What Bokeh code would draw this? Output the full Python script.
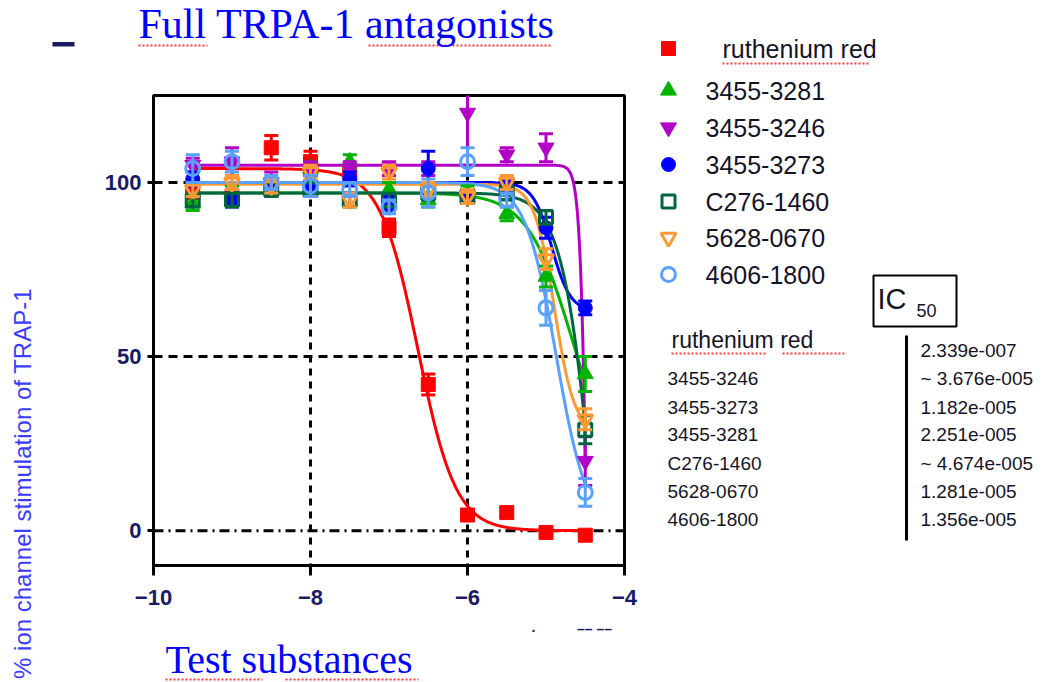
import numpy as np
from bokeh.plotting import figure
from bokeh.layouts import row, column
from bokeh.models import (ColumnDataSource, FixedTicker, Span, Label, Range1d)
from bokeh.core.properties import value
from bokeh.embed import file_html
from bokeh.resources import INLINE

# ---------------- data ----------------
log_conc = [-9.5, -9.0, -8.5, -8.0, -7.5, -7.0, -6.5, -6.0, -5.5, -5.0, -4.5]

names = ["ruthenium red", "3455-3281", "3455-3246", "3455-3273",
         "C276-1460", "5628-0670", "4606-1800"]

ruthenium_red = [97, 96, 110, 106, 103, 87, 42, 4.5, 5.2, -0.5, -1.3]
ruthenium_red_err = [1, 1, 3.5, 3, 1, 2.5, 3, 1, 1, 0.5, 0.5]

c3455_3281 = [94, 97, 98, 104, 106, 98, 95, 97, 91, 73, 45]
c3455_3281_err = [2, 2, 2, 2, 2, 2, 2, 2, 2, 3, 5]

c3455_3246 = [105, 106, 100, 104, 104, 104, 104, 120, 108, 110, 20]
c3455_3246_err = [2, 4, 3, 2, 2, 2, 2, 15, 2, 4, 7]

c3455_3273 = [101, 95, 99, 100, 101, 94, 104, 96, 99, 87, 64]
c3455_3273_err = [2, 2, 2, 2, 2, 2, 5, 2, 2, 3, 2]

cC276_1460 = [95, 95, 98, 98, 95, 95, 97, 96, 97, 90, 29]
cC276_1460_err = [2, 2, 2, 2, 2, 2, 2, 2, 2, 2, 4]

c5628_0670 = [98, 100, 99, 103, 95, 103, 98, 96, 100, 78, 32]
c5628_0670_err = [2, 2, 2, 2, 2, 2, 2, 2, 2, 3, 3]

c4606_1800 = [104, 106, 100, 99, 98, 93, 97, 106, 95, 64, 11]
c4606_1800_err = [4, 3, 2, 3, 2, 2, 4, 4, 2, 5, 4]

# fitted sigmoid parameters (top, bottom, log IC50, Hill slope)
fit_top = [104, 97, 105, 100, 97, 99.5, 100]
fit_bottom = [0, 10, -300, 63, -120, 28, 0]
fit_logic50 = [-6.631, -4.648, -4.4346, -4.927, -4.330, -4.892, -4.868]
fit_hill = [1.8, 1.49, 8.8, 3.65, 2.06, 3.39, 2.2]

ic50_names = ["ruthenium red", "3455-3246", "3455-3273", "3455-3281",
              "C276-1460", "5628-0670", "4606-1800"]
ic50_values = ["2.339e-007", "~ 3.676e-005", "1.182e-005", "2.251e-005",
               "~ 4.674e-005", "1.281e-005", "1.356e-005"]

x_ticks = [-10, -8, -6, -4]
y_ticks = [0, 50, 100]

values = [ruthenium_red, c3455_3281, c3455_3246, c3455_3273, cC276_1460, c5628_0670, c4606_1800]
errors = [ruthenium_red_err, c3455_3281_err, c3455_3246_err, c3455_3273_err,
          cC276_1460_err, c5628_0670_err, c4606_1800_err]

# ---------------- styles ----------------
colors = ["#ff0000", "#00b400", "#b400c8", "#0000ff", "#006640", "#ff9933", "#5aa0ff"]
markers = ["square", "triangle", "inverted_triangle", "circle", "square",
           "inverted_triangle", "circle"]
filled = [True, True, True, True, False, False, False]
msizes = [14, 16, 16, 14, 13, 15, 14]

NAVY = "#1a1a66"
TXT = "#141428"
SANS = "Liberation Sans"
SERIF = "Liberation Serif"

# layout geometry (page pixels)
W_LEFT, W_MID, W_RIGHT = 45, 595, 417
H_TOP, H_MAIN, H_BOT = 93, 522, 67
H_ALL = H_TOP + H_MAIN + H_BOT


def canvas(w, h, x0, y0):
    """A blank figure whose data coordinates equal page pixels."""
    f = figure(width=w, height=h, x_range=Range1d(x0, x0 + w), y_range=Range1d(y0 + h, y0),
               x_axis_type=None, y_axis_type=None, min_border=0,
               output_backend="svg", toolbar_location=None,
               background_fill_color="white", border_fill_color="white")
    f.outline_line_color = None
    f.grid.visible = False
    return f


def lab(f, text, x, y, size, font=SANS, color=TXT, align="left",
        baseline="middle", style="normal", angle=0):
    f.add_layout(Label(x=x, y=y, text=text, text_font=font,
                       text_font_size=f"{size}px", text_color=color,
                       text_align=align, text_baseline=baseline,
                       text_font_style=style, angle=angle))


def squiggle(f, x0, x1, y):
    f.segment(x0=[x0], y0=[y], x1=[x1], y1=[y], line_color="#ff3b3b",
              line_width=2, line_dash="2 2")


# ---------------- main chart ----------------
p = figure(frame_width=471, frame_height=470,
           min_border_left=108, min_border_right=16,
           min_border_top=2, min_border_bottom=H_MAIN - 472,
           x_range=(-10, -4), y_range=(-10, 125),
           output_backend="svg", toolbar_location=None,
           background_fill_color="white", border_fill_color="white")
p.outline_line_color = "black"
p.outline_line_width = 3
p.xgrid.visible = False
p.ygrid.visible = False

for ax, ticks in ((p.xaxis, x_ticks), (p.yaxis, y_ticks)):
    ax.ticker = FixedTicker(ticks=ticks)
    ax.axis_line_width = 3
    ax.axis_line_color = "black"
    ax.major_tick_line_width = 3
    ax.major_tick_line_color = "black"
    ax.major_tick_in = 0
    ax.minor_tick_line_color = None
    ax.major_label_text_font = SANS
    ax.major_label_text_font_size = "22px"
    ax.major_label_text_font_style = "bold"
    ax.major_label_text_color = NAVY
p.xaxis.major_tick_out = 10
p.xaxis.major_label_standoff = 14
p.yaxis.major_tick_out = 6
p.yaxis.major_label_standoff = 6

for t in x_ticks[1:-1]:
    p.add_layout(Span(location=t, dimension="height", line_color="black",
                      line_width=3, line_dash="7 6", level="underlay"))
for t in y_ticks:
    dash = "10 5 2 5" if t == 0 else "9 6"
    p.add_layout(Span(location=t, dimension="width", line_color="black",
                      line_width=3, line_dash=dash, level="underlay"))

xf = np.linspace(log_conc[0], log_conc[-1], 500)
for i in range(len(names)):
    yf = fit_bottom[i] + (fit_top[i] - fit_bottom[i]) / (1 + 10 ** ((xf - fit_logic50[i]) * fit_hill[i]))
    p.line(xf, yf, line_color=colors[i], line_width=3)

for i, nm in enumerate(names):
    y = np.array(values[i], dtype=float)
    e = np.array(errors[i], dtype=float)
    src = ColumnDataSource(dict(x=log_conc, y=y, lo=y - e, hi=y + e))
    p.segment(x0="x", y0="lo", x1="x", y1="hi", source=src, line_color=colors[i], line_width=3)
    p.scatter(x="x", y="lo", source=src, marker="dash", size=14, line_color=colors[i], line_width=3)
    p.scatter(x="x", y="hi", source=src, marker="dash", size=14, line_color=colors[i], line_width=3)
    if filled[i]:
        p.scatter(x="x", y="y", source=src, marker=markers[i], size=msizes[i],
                  fill_color=colors[i], line_color=colors[i], line_width=1)
    else:
        p.scatter(x="x", y="y", source=src, marker=markers[i], size=msizes[i],
                  fill_alpha=0.0, line_color=colors[i], line_width=3)

# ---------------- surrounding texts ----------------
p_left = canvas(W_LEFT, H_ALL, 0, 0)
lab(p_left, "% ion channel stimulation of TRAP-1", 22, 483, 24, color="#3c3cff",
    align="center", angle=np.pi / 2)

p_top = canvas(W_MID, H_TOP, W_LEFT, 0)
lab(p_top, "Full TRPA-1 antagonists", 138, 23, 42, font=SERIF, color="#0000ff")
p_top.quad(left=[52], right=[74], top=[41.5], bottom=[46], fill_color=NAVY, line_color=None)
squiggle(p_top, 138, 207, 45)
squiggle(p_top, 368, 552, 45)

p_bot = canvas(W_MID, H_BOT, W_LEFT, H_TOP + H_MAIN)
lab(p_bot, "Test substances", 165, 659, 40, font=SERIF, color="#0000ff")
lab(p_bot, ".", 533, 626, 14, color=NAVY, align="center", style="bold")
lab(p_bot, "\u2013\u2013 \u2013\u2013", 594, 628, 14, color=NAVY, align="center", style="bold")
squiggle(p_bot, 165, 262, 679)
squiggle(p_bot, 285, 418, 679)

# legend + IC50 table
p_right = canvas(W_RIGHT, H_ALL, W_LEFT + W_MID, 0)
legend_y = [48, 90, 127, 164, 201, 237, 274]
legend_src = ColumnDataSource(dict(x=[668] * len(names), y=legend_y, color=colors,
                                   marker=markers, size=msizes,
                                   fa=[1.0 if f else 0.0 for f in filled],
                                   lw=[1 if f else 3 for f in filled],
                                   tx=[722 if i == 0 else 705 for i in range(len(names))],
                                   name=names))
p_right.scatter(x="x", y="y", marker="marker", size="size", fill_color="color",
                fill_alpha="fa", line_color="color", line_width="lw", source=legend_src)
p_right.text(x="tx", y="y", text="name", source=legend_src, text_font=value(SANS),
             text_font_size="25px", text_color=TXT, text_baseline="middle")
squiggle(p_right, 722, 868, 63)

p_right.quad(left=[873], right=[956], top=[275], bottom=[326], fill_alpha=0,
             line_color="black", line_width=2)
lab(p_right, "IC", 877, 298, 29)
lab(p_right, "50", 916, 310, 18)
p_right.quad(left=[904.5], right=[907.5], top=[335], bottom=[540],
             fill_color="black", line_color=None)

name_y = [339, 378, 407, 434, 463, 491, 519]
val_y = [350, 378, 407, 434, 463, 491, 519]
for i, (nm, yy) in enumerate(zip(ic50_names, name_y)):
    if i == 0:
        lab(p_right, nm, 671, yy, 23)
    else:
        lab(p_right, nm, 667, yy, 19)
for v, yy in zip(ic50_values, val_y):
    lab(p_right, v, 920, yy, 19)
squiggle(p_right, 671, 765, 353)
squiggle(p_right, 782, 845, 353)

middle = column(row(p_top, spacing=0), p, row(p_bot, spacing=0), spacing=0)
layout = row(p_left, middle, p_right, spacing=0)
open("out.html", "w").write(file_html(layout, INLINE))
